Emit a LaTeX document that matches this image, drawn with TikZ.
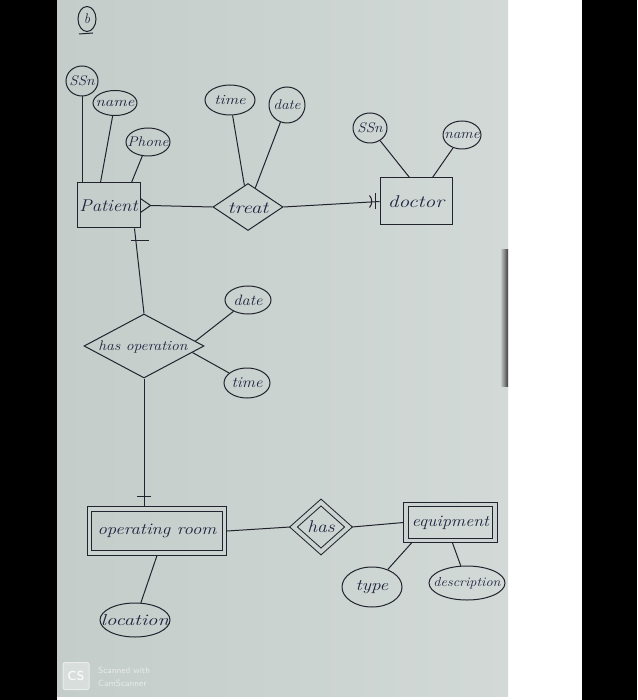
\documentclass[tikz,border=0pt]{standalone}
\usetikzlibrary{shapes.geometric,calc}
\definecolor{paperA}{HTML}{C4CDC9}
\definecolor{paperB}{HTML}{D2D9D7}
\definecolor{paper}{HTML}{CBD3D0}
\definecolor{ink}{HTML}{22232E}
\definecolor{pen}{HTML}{1F2440}
\newcommand\hsz[1]{\fontsize{#1}{#1}\selectfont}
\newcommand\lb[2]{\makebox[0pt]{\scalebox{#1}[1]{#2}}}
\begin{document}
\begin{tikzpicture}[x=1pt,y=-1pt,
  ent/.style={draw=ink,line width=1pt,rectangle,inner sep=0pt},
  wkent/.style={ent,double=paper,double distance=3.5pt,outer sep=2.5pt},
  attr/.style={draw=ink,line width=1pt,ellipse,inner sep=0pt},
  rel/.style={draw=ink,line width=1pt,diamond,inner sep=0pt},
  wkrel/.style={rel,double=paper,double distance=4pt,outer sep=2.5pt},
  lbl/.style={text=pen,font=\itshape\hsz{14}},
  conn/.style={draw=ink,line width=1pt},
  wm/.style={text=white!55!paper,font=\sffamily\hsz{9},anchor=west,inner sep=0pt}
]
\useasboundingbox (0,0) rectangle (637,700);
% background: black frame, white strip, paper
\fill[black] (0,0) rectangle (637,700);
\fill[white] (57,0) rectangle (582,700);
\shade[left color=paperA,right color=paperB] (57,0) rectangle (508,696);
\shade[left color=paperB,right color=black!75] (500,250) rectangle (508,386);

% circled b
\node[draw=ink,line width=1pt,ellipse,minimum width=18,minimum height=25,inner sep=0pt,text=pen,font=\itshape\hsz{14}] (bmark) at (87,19) {\lb{1}{b}};
\coordinate (bu1) at ([xshift=-8pt,yshift=-2pt]bmark.south);
\coordinate (bu2) at ([xshift=6pt,yshift=-1pt]bmark.south);
\draw[conn] (bu1) -- (bu2);

% Patient and attributes
\node[ent,lbl,font=\itshape\hsz{17},minimum width=63,minimum height=45] (patient) at (108.5,205.5) {\lb{1.1}{Patient}};
\node[attr,lbl,font=\itshape\hsz{14},minimum width=32,minimum height=30] (ssnA) at (82,81) {\lb{1.1}{SSn}};
\node[attr,lbl,font=\itshape\hsz{14},minimum width=44,minimum height=25] (nameA) at (115,103) {\lb{1.2}{name}};
\node[attr,lbl,font=\itshape\hsz{14},minimum width=44,minimum height=28] (phone) at (148,142) {\lb{1.1}{Phone}};

% treat
\node[rel,minimum width=70,minimum height=47] (treat) at (248,207) {};
\node[lbl,font=\itshape\hsz{17}] (treatT) at (248,208) {\lb{1.25}{treat}};
\node[attr,lbl,font=\itshape\hsz{14},minimum width=50,minimum height=30] (timeA) at (230,100) {\lb{1.2}{time}};
\node[attr,lbl,font=\itshape\hsz{14},minimum width=36,minimum height=36] (dateA) at (287,105) {\lb{1.1}{date}};

% doctor
\node[ent,lbl,font=\itshape\hsz{17},minimum width=72,minimum height=47] (doctor) at (416,201.5) {\lb{1.25}{doctor}};
\node[attr,lbl,font=\itshape\hsz{14},minimum width=34,minimum height=30] (ssnB) at (370,128) {\lb{1.1}{SSn}};
\node[attr,lbl,font=\itshape\hsz{14},minimum width=38,minimum height=28] (nameB) at (462,135) {\lb{1.1}{name}};

% has operation
\node[rel,minimum width=120,minimum height=64] (hop) at (144,346) {};
\node[lbl,font=\itshape\hsz{14}] (hopT) at (143,347) {\lb{1.12}{has operation}};
\node[attr,lbl,font=\itshape\hsz{15},minimum width=46,minimum height=28] (dateB) at (248,300) {\lb{1.1}{date}};
\node[attr,lbl,font=\itshape\hsz{15},minimum width=46,minimum height=30] (timeB) at (247,383) {\lb{1.1}{time}};

% operating room, has, equipment
\node[wkent,lbl,font=\itshape\hsz{16},minimum width=135,minimum height=44] (opr) at (157,531) {\lb{1.17}{operating room}};
\node[attr,lbl,font=\itshape\hsz{16},minimum width=70,minimum height=34] (loc) at (135,620) {\lb{1.3}{location}};
\node[wkrel,minimum width=57,minimum height=51] (has) at (321,527) {};
\node[lbl,font=\itshape\hsz{17}] (hasT) at (321,527) {\lb{1.15}{has}};
\node[wkent,lbl,font=\itshape\hsz{16},minimum width=89,minimum height=36] (equip) at (450.5,522.5) {\lb{1.12}{equipment}};
\node[attr,lbl,font=\itshape\hsz{16},minimum width=60,minimum height=40] (typeA) at (372,587) {\lb{1.2}{type}};
\node[attr,lbl,font=\itshape\hsz{13},minimum width=76,minimum height=34] (desc) at (467,583) {\lb{1.1}{description}};

% connectors: Patient
\draw[conn] (ssnA.south) -- (ssnA.south |- patient.north);
\draw[conn] (nameA) -- ([xshift=-8pt]patient.north);
\draw[conn] (phone) -- ([xshift=-9pt]patient.north east);
\coordinate (ptip) at ([xshift=10pt]patient.east);
\draw[conn] ([yshift=7pt]patient.east) -- (ptip) -- ([yshift=-7pt]patient.east);
\draw[conn] (ptip) -- (treat.west);
% treat
\draw[conn] (timeA) -- (treat);
\draw[conn] (dateA) -- (treat);
\draw[conn] (treat.east) -- (doctor.west);
\draw[conn] ([xshift=-4pt,yshift=8pt]doctor.west) -- ([xshift=-4pt,yshift=-8pt]doctor.west);
\draw[conn] ([xshift=-10pt,yshift=6pt]doctor.west) to[bend left=40] ([xshift=-10pt,yshift=-6pt]doctor.west);
\draw[conn] (ssnB) -- ([xshift=30pt]doctor.north west);
\draw[conn] (nameB) -- ([xshift=-20pt]doctor.north east);
% patient - has operation
\draw[conn] ([xshift=-6pt]patient.south east) -- (hop.north);
\draw[conn] ([xshift=-10pt,yshift=-12pt]patient.south east) -- ([xshift=8pt,yshift=-12pt]patient.south east);
\draw[conn] (dateB) -- ($(hop.east)!0.15!(hop.north)$);
\draw[conn] (timeB) -- ($(hop.east)!0.2!(hop.south)$);
\coordinate (oprTop) at (hop.south |- opr.north);
\draw[conn] (hop.south) -- (oprTop);
\draw[conn] ([xshift=-7pt,yshift=10pt]oprTop) -- ([xshift=7pt,yshift=10pt]oprTop);
% bottom row
\draw[conn] (opr.south) -- (loc);
\draw[conn] (opr.east) -- (has.west);
\draw[conn] (has.east) -- (equip.west);
\draw[conn] (typeA) -- ([xshift=8pt]equip.south west);
\draw[conn] (desc) -- ([xshift=2pt]equip.south);

% scanner watermark
\node[draw=white!60!paper,line width=1pt,fill=white!25!paper,rounded corners=2pt,minimum width=26,minimum height=27,inner sep=0pt,text=white!85!paper,font=\sffamily\bfseries\hsz{13}] (cslogo) at (76,676) {CS};
\node[wm] (wm1) at (98,670) {Scanned with};
\node[wm] (wm2) at (98,683) {CamScanner};
\end{tikzpicture}
\end{document}
